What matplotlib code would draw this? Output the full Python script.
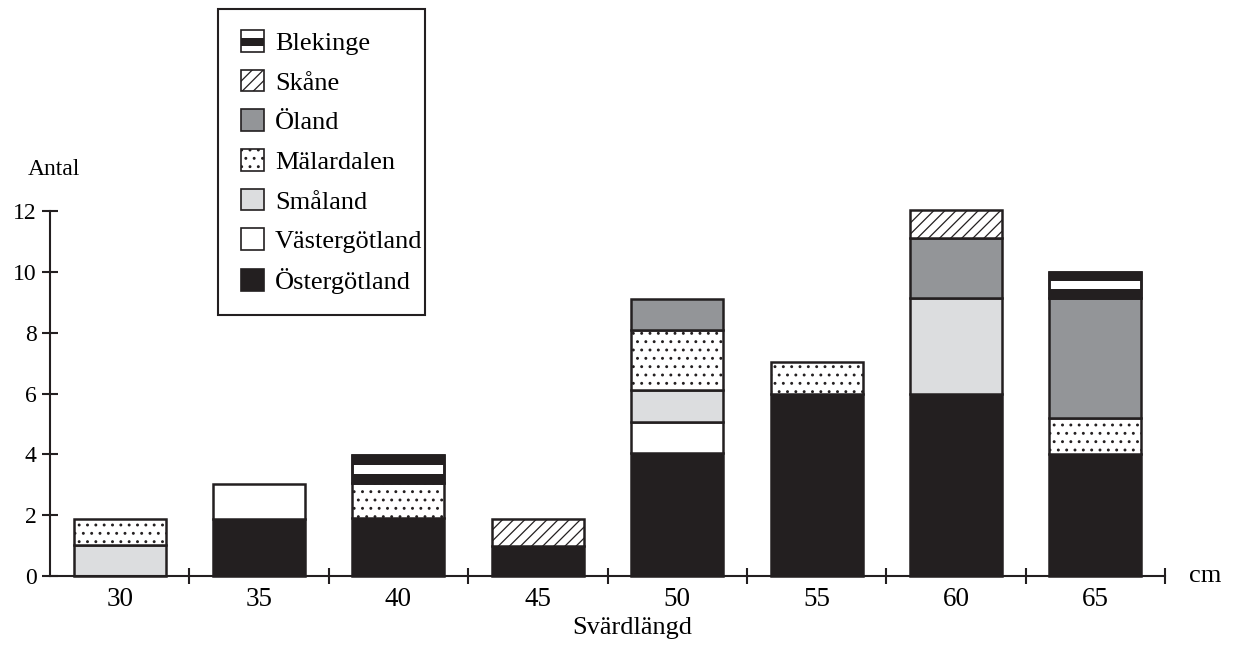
import matplotlib
matplotlib.use('Agg')
import matplotlib.pyplot as plt
from matplotlib.patches import Rectangle, Patch
from matplotlib.legend_handler import HandlerBase
import numpy as np

plt.rcParams['font.family'] = ['Liberation Serif', 'DejaVu Serif']
plt.rcParams['hatch.linewidth'] = 0.9

# sword length classes (cm) and counts per region, stacked bottom-up
lengths = [30, 35, 40, 45, 50, 55, 60, 65]
ostergotland = [0, 1.87, 1.9, 1.0, 4.05, 6.0, 6.0, 4.0]
vastergotland = [0, 1.15, 0, 0, 1.02, 0, 0, 0]
smaland = [1.02, 0, 0, 0, 1.03, 0, 3.14, 0]
malardalen = [0.86, 0, 1.15, 0, 2.0, 1.03, 0, 1.2]
oland = [0, 0, 0, 0, 1.0, 0, 1.96, 3.94]
skane = [0, 0, 0, 0.88, 0, 0, 0.94, 0]
blekinge = [0, 0, 0.93, 0, 0, 0, 0, 0.86]

region_names = ['Östergötland', 'Västergötland', 'Småland', 'Mälardalen',
                'Öland', 'Skåne', 'Blekinge']

INK = '#231f20'
styles = {
    'Östergötland': dict(facecolor=INK, hatch=None),
    'Västergötland': dict(facecolor='white', hatch=None),
    'Småland': dict(facecolor='#dcdddf', hatch=None),
    'Mälardalen': dict(facecolor='white', hatch='..'),
    'Öland': dict(facecolor='#939598', hatch=None),
    'Skåne': dict(facecolor='white', hatch='///'),
    'Blekinge': dict(facecolor='white', hatch=None),
}

W, H = 1239, 649
fig = plt.figure(figsize=(W / 100, H / 100), dpi=100)
ax = fig.add_axes([50 / W, 73 / H, 1115 / W, 365 / H])

width = 3.3
x = np.array(lengths, dtype=float)
bottom = np.zeros(len(lengths))
series = [ostergotland, vastergotland, smaland, malardalen, oland, skane, blekinge]

for name, vals in zip(region_names, series):
    vals = np.array(vals, dtype=float)
    m = vals > 0
    st = styles[name]
    ax.bar(x[m], vals[m], bottom=bottom[m], width=width, facecolor=st['facecolor'],
           edgecolor=INK, linewidth=1.8, hatch=st['hatch'], clip_on=False, zorder=2)
    if name == 'Blekinge':
        # horizontal black/white stripes
        for f0, f1 in [(0.0, 0.33), (0.66, 1.0)]:
            ax.bar(x[m], vals[m] * (f1 - f0), bottom=bottom[m] + vals[m] * f0, width=width,
                   facecolor=INK, edgecolor='none', clip_on=False, zorder=3)
        ax.bar(x[m], vals[m], bottom=bottom[m], width=width, fill=False,
               edgecolor=INK, linewidth=1.8, clip_on=False, zorder=4)
    bottom = bottom + vals

ax.set_xlim(27.5, 67.5)
ax.set_ylim(0, 12)
for s in ['top', 'right']:
    ax.spines[s].set_visible(False)
for s in ['left', 'bottom']:
    ax.spines[s].set_linewidth(1.5)
    ax.spines[s].set_color(INK)

ax.set_yticks(range(0, 13, 2))
ax.tick_params(axis='y', direction='inout', length=11, width=1.5, color=INK,
               labelsize=17, pad=4)
ax.set_xticks(np.arange(32.5, 68, 5))
ax.set_xticklabels([])
ax.tick_params(axis='x', which='major', direction='inout', length=11, width=1.5, color=INK)
ax.set_xticks(lengths, minor=True)
ax.set_xticklabels([str(v) for v in lengths], minor=True)
ax.tick_params(axis='x', which='minor', length=0, labelsize=19.5, pad=8)

ax.text(28.58, 13.36, 'Antal', ha='right', va='center', fontsize=17, clip_on=False)
ax.text(68.35, 0, 'cm', ha='left', va='center', fontsize=19, clip_on=False)
ax.text(48.38, -1.7, 'Svärdlängd', ha='center', va='center', fontsize=19, clip_on=False)


class StripeHandler(HandlerBase):
    def create_artists(self, legend, orig_handle, xdescent, ydescent, width, height,
                       fontsize, trans):
        r = Rectangle((-xdescent, -ydescent), width, height, facecolor='white',
                      edgecolor=INK, lw=1.2, transform=trans)
        b = Rectangle((-xdescent, -ydescent + height * 0.25), width, height * 0.4,
                      facecolor=INK, edgecolor='none', transform=trans)
        return [r, b]


handles = []
for name in region_names[::-1]:
    st = styles[name]
    handles.append(Patch(facecolor=st['facecolor'], edgecolor=INK, linewidth=1.2,
                         hatch=st['hatch'], label=name))
hmap = {handles[0]: StripeHandler()}
leg = fig.legend(handles=handles, labels=region_names[::-1], handler_map=hmap,
                 loc='upper left', bbox_to_anchor=(241 / W, 1 - 30 / H),
                 borderaxespad=0, frameon=False, fontsize=19,
                 handlelength=0.88, handleheight=0.88, handletextpad=0.4,
                 labelspacing=0.56, borderpad=0)

# legend frame drawn separately (text runs close to the right border)
fig.patches.append(Rectangle((218 / W, 1 - 315 / H), 207 / W, 306 / H,
                             transform=fig.transFigure, fill=False,
                             edgecolor=INK, linewidth=1.5))

fig.savefig('out.png', dpi=100)
